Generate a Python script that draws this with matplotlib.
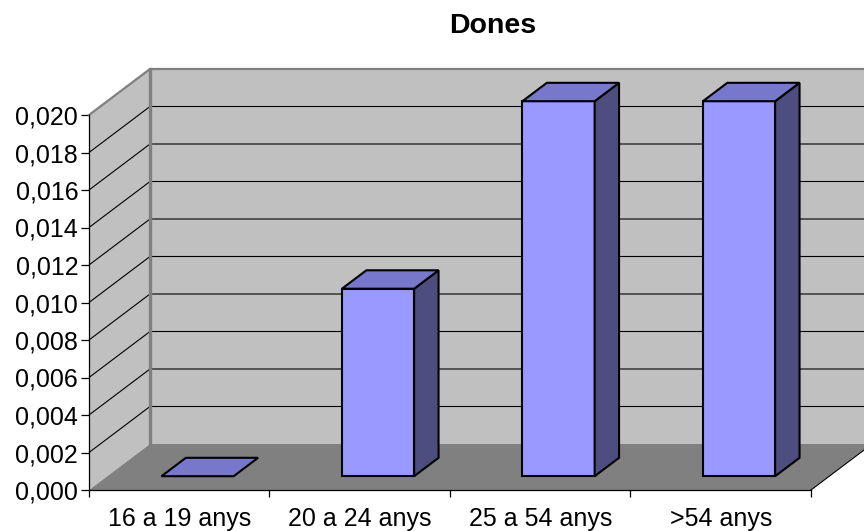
import matplotlib
matplotlib.use("Agg")
import matplotlib.pyplot as plt
from matplotlib.patches import Polygon
from matplotlib.ticker import FuncFormatter, FixedLocator

plt.rcParams["font.family"] = ["Liberation Sans", "DejaVu Sans"]

# ---- data -------------------------------------------------------------
title = "Dones"
categories = ["16 a 19 anys", "20 a 24 anys", "25 a 54 anys", ">54 anys"]
values = [0.000, 0.010, 0.020, 0.020]
y_ticks = [0.000, 0.002, 0.004, 0.006, 0.008, 0.010,
           0.012, 0.014, 0.016, 0.018, 0.020]

# ---- oblique 3-D geometry (in pixels of the 864x531 canvas) -----------
W, H = 864, 531
CAT_PX = 180.5          # width of one category along the front edge
VAL_PX = 18750.0        # pixels per unit of value
X0_PX, Y0_PX = 89, 490  # front corner of floor / walls
DEPTH = (61 / CAT_PX, 46 / VAL_PX)   # full depth vector in data units
YMAX = y_ticks[-1]
BAR_W = 0.4             # bar width (category units)
BAR_D0, BAR_D = 0.3, 0.4  # bar start depth and bar depth (fraction)

WALL = "#C0C0C0"
FLOOR = "#808080"
EDGE = "#808080"
FRONT = "#9999FF"
TOP = "#7777CC"
SIDE = "#4D4D80"
LABEL_SIZE = 18


def dep(x, y, t):
    """Shift a point (x, y) backwards by a fraction t of the depth."""
    return (x + t * DEPTH[0], y + t * DEPTH[1])


fig = plt.figure(figsize=(W / 100, H / 100), dpi=100)
ax = fig.add_axes([0, 0, 1, 1])
ax.set_xlim(-X0_PX / CAT_PX, (W - X0_PX) / CAT_PX)
ax.set_ylim(-(H - Y0_PX) / VAL_PX, Y0_PX / VAL_PX)
ax.patch.set_visible(False)

n = len(categories)

# walls and floor
ax.add_patch(Polygon([(0, 0), dep(0, 0, 1), dep(0, YMAX, 1), (0, YMAX)],
                     closed=True, fc=WALL, ec="none", zorder=1))
ax.add_patch(Polygon([dep(0, 0, 1), dep(n, 0, 1), dep(n, YMAX, 1),
                      dep(0, YMAX, 1)],
                     closed=True, fc=WALL, ec="none", zorder=1))
ax.add_patch(Polygon([(0, 0), (n, 0), dep(n, 0, 1), dep(0, 0, 1)],
                     closed=True, fc=FLOOR, ec="none", zorder=1))

# gridlines across the side and back walls
dx, dy = DEPTH
for v in y_ticks[1:-1]:
    ax.plot([0, dx, n + dx], [v, v + dy, v + dy], color="black",
            lw=0.8, zorder=2, solid_capstyle="butt")

# wall borders
ax.plot([0, dx, n + dx], [YMAX, YMAX + dy, YMAX + dy], color=EDGE,
        lw=1.6, zorder=2)
ax.plot([dx, dx], [dy, YMAX + dy], color=EDGE, lw=2.4, zorder=2)
ax.plot([n, n + dx], [0, dy], color="black", lw=0.8, zorder=2)

# bars
for i, v in enumerate(values):
    fx, fy = dep(i + 0.5 - BAR_W / 2, 0, BAR_D0)
    rx = fx + BAR_W
    kw = dict(closed=True, ec="black", lw=1.5, joinstyle="miter", zorder=3)
    if v > 0:
        ax.add_patch(Polygon([(fx, fy), (rx, fy), (rx, fy + v), (fx, fy + v)],
                             fc=FRONT, **kw))
        ax.add_patch(Polygon([(rx, fy), dep(rx, fy, BAR_D),
                              dep(rx, fy + v, BAR_D), (rx, fy + v)],
                             fc=SIDE, **kw))
    ax.add_patch(Polygon([(fx, fy + v), (rx, fy + v),
                          dep(rx, fy + v, BAR_D), dep(fx, fy + v, BAR_D)],
                         fc=TOP, **kw))

# axes
for s in ("top", "right"):
    ax.spines[s].set_visible(False)
ax.spines["left"].set_position(("data", 0))
ax.spines["left"].set_bounds(0, YMAX)
ax.spines["bottom"].set_position(("data", 0))
ax.spines["bottom"].set_bounds(0, n)
for s in ("left", "bottom"):
    ax.spines[s].set_linewidth(0.9)
    ax.spines[s].set_zorder(2.5)

ax.yaxis.set_major_locator(FixedLocator(y_ticks))
ax.yaxis.set_major_formatter(
    FuncFormatter(lambda v, _: f"{v:.3f}".replace(".", ",")))
ax.tick_params(axis="y", direction="out", length=5.8, width=0.9,
               pad=2.0, labelsize=LABEL_SIZE)

ax.xaxis.set_major_locator(FixedLocator(range(n + 1)))
ax.xaxis.set_major_formatter(FuncFormatter(lambda v, _: ""))
ax.xaxis.set_minor_locator(FixedLocator([i + 0.5 for i in range(n)]))
ax.set_xticklabels(categories, minor=True)
ax.tick_params(axis="x", which="major", direction="out", length=5,
               width=0.9)
ax.tick_params(axis="x", which="minor", length=0, pad=12.2,
               labelsize=LABEL_SIZE)

fig.text(493 / W, 1 - 33.3 / H, title, ha="center", va="baseline",
         fontsize=20.5, fontweight="bold")

fig.savefig("out.png", dpi=100)
